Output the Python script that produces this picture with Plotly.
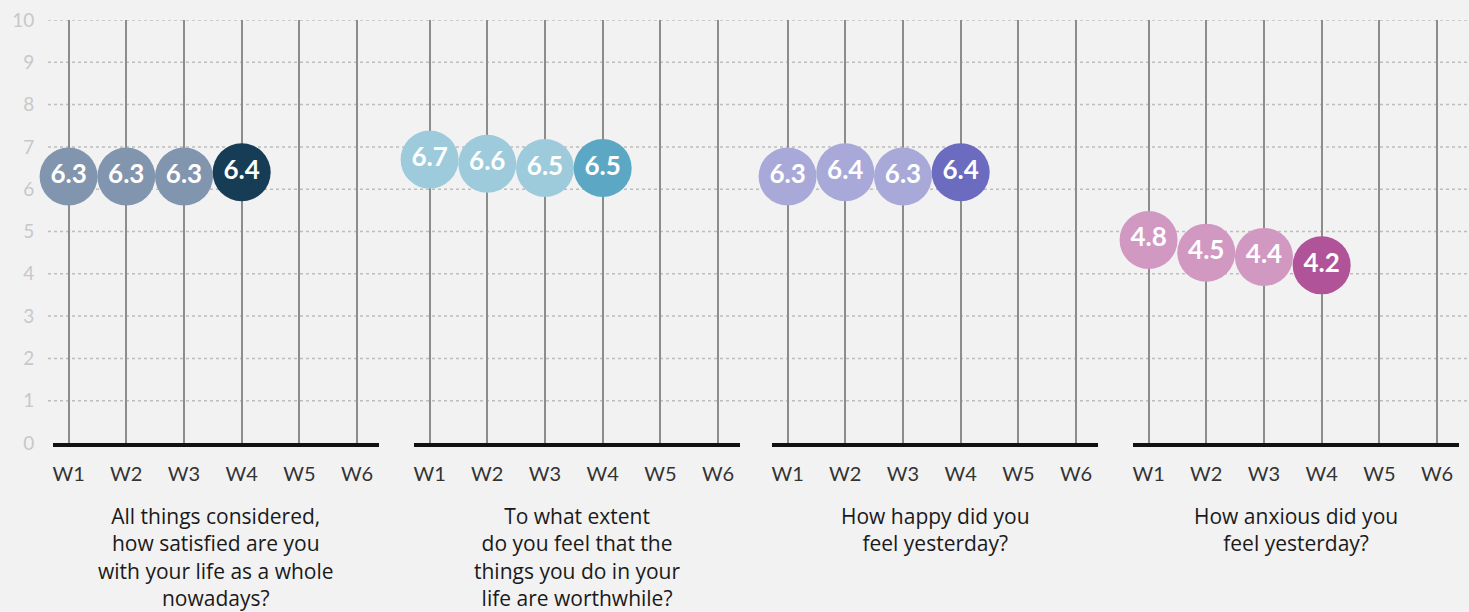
import plotly.graph_objects as go

waves = ["W1", "W2", "W3", "W4", "W5", "W6"]
observed_waves = ["W1", "W2", "W3", "W4"]

satisfied = [6.3, 6.3, 6.3, 6.4]
worthwhile = [6.7, 6.6, 6.5, 6.5]
happy = [6.3, 6.4, 6.3, 6.4]
anxious = [4.8, 4.5, 4.4, 4.2]

titles = [
    "All things considered,<br>how satisfied are you<br>with your life as a whole<br>nowadays?",
    "To what extent<br>do you feel that the<br>things you do in your<br>life are worthwhile?",
    "How happy did you<br>feel yesterday?",
    "How anxious did you<br>feel yesterday?",
]
series = [satisfied, worthwhile, happy, anxious]
light_colors = ["#8195ae", "#9dcbdb", "#a9a9d9", "#d198c2"]
dark_colors = ["#173d56", "#5ba7c4", "#6b6bbf", "#b05398"]
y_ticks = list(range(0, 11))

W, H = 1469, 612
ML, MR, MT, MB = 48, 0, 20, 169
pw = W - ML - MR
px = lambda p: (p - ML) / pw
domains = [(px(53), px(379)), (px(414), px(740)), (px(772), px(1098)), (px(1133), px(1459))]

fig = go.Figure()
FONT = "Lato"
TITLE_FONT = "Open Sans"

for i, (vals, lc, dc, dom) in enumerate(zip(series, light_colors, dark_colors, domains)):
    n = i + 1
    xa = "x" if n == 1 else f"x{n}"
    ya = "y" if n == 1 else f"y{n}"
    colors = [lc] * (len(vals) - 1) + [dc]
    fig.add_trace(go.Scatter(
        x=observed_waves, y=vals, xaxis=xa, yaxis=ya,
        mode="markers+text",
        marker=dict(size=58, color=colors, line=dict(width=0), opacity=1),
        text=[f"{v:.1f}" for v in vals],
        textposition="middle center",
        textfont=dict(family=FONT, size=26, color="white", weight="bold"),
        hoverinfo="skip", showlegend=False, cliponaxis=False,
    ))
    xkey = "xaxis" if n == 1 else f"xaxis{n}"
    ykey = "yaxis" if n == 1 else f"yaxis{n}"
    fig.update_layout({
        xkey: dict(
            domain=list(dom), anchor=ya, type="category",
            categoryorder="array", categoryarray=waves,
            range=[-0.27, 5.38],
            showgrid=True, gridcolor="#8c8c8c", gridwidth=1.5,
            showline=True, linecolor="#111111", linewidth=4,
            ticks="outside", ticklen=10, tickcolor="rgba(0,0,0,0)",
            tickfont=dict(family=FONT, size=20, color="#333333"),
            zeroline=False, fixedrange=True,
        ),
        ykey: dict(
            domain=[0, 1], anchor=xa, range=[0, 10],
            tickvals=y_ticks, showgrid=False, zeroline=False,
            showticklabels=(n == 1),
            ticks="outside" if n == 1 else "", ticklen=14, tickcolor="rgba(0,0,0,0)",
            tickfont=dict(family=FONT, size=19, color="#c8c8c8"),
            showline=False, fixedrange=True,
        ),
    })
    fig.add_annotation(
        text=titles[i], xref=f"{xa} domain", yref="paper", x=0.5, y=-0.135,
        xanchor="center", yanchor="top", showarrow=False, align="center",
        font=dict(family=TITLE_FONT, size=21, color="#1a1a1a"),
    )

for v in y_ticks[1:]:
    fig.add_shape(type="line", xref="paper", yref="y", x0=0, x1=1, y0=v, y1=v,
                  line=dict(color="#bdbdbd", width=1.5, dash="dot"), layer="below")

fig.update_layout(
    width=W, height=H,
    margin=dict(l=ML, r=MR, t=MT, b=MB),
    paper_bgcolor="#f2f2f2", plot_bgcolor="#f2f2f2",
    showlegend=False,
)

fig.write_html("out.html", config={"displayModeBar": False},
               post_script="document.body.style.margin='0';document.body.style.overflow='hidden';")
